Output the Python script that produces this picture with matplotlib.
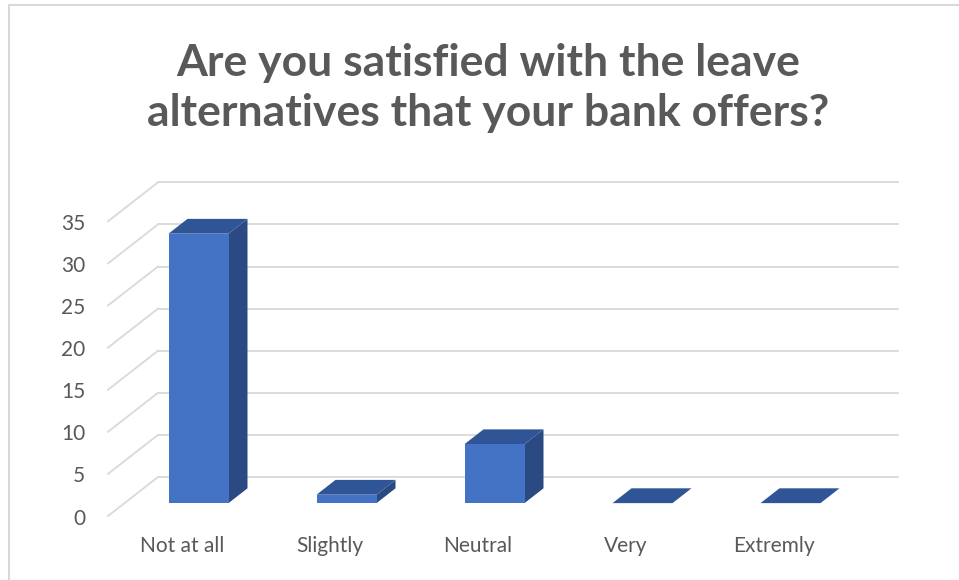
import matplotlib.pyplot as plt
from matplotlib.patches import Polygon

categories = ['Not at all', 'Slightly', 'Neutral', 'Very', 'Extremly']
counts = [32, 1, 7, 0, 0]
yticks = [0, 5, 10, 15, 20, 25, 30, 35]

title = 'Are you satisfied with the leave\nalternatives that your bank offers?'

# colours of the three visible faces of each column
front_col = '#4472C4'
top_col = '#2F5597'
side_col = '#2B4A83'
grid_col = '#D9D9D9'
text_col = '#595959'

plt.rcParams['font.family'] = ['Lato', 'DejaVu Sans']

W, H = 959, 580
fig = plt.figure(figsize=(W / 100, H / 100), dpi=100)
ax = fig.add_axes([0, 0, 1, 1])

# one x unit = one category slot, one y unit = one count on the front plane
px_x, px_y = 148.0, 8.42
x0_px, y0_px = 108, H - 516
ax.set_xlim(-x0_px / px_x, (W - x0_px) / px_x)
ax.set_ylim(-y0_px / px_y, (H - y0_px) / px_y)
ax.axis('off')

# depth of the floor in data units (pseudo 3d shear)
dx, dy = 50 / px_x, 39 / px_y
n = len(categories)

# side wall + back wall gridlines
for v in yticks:
    ax.plot([0, dx], [v, v + dy], color=grid_col, lw=1.3, zorder=1)
    ax.plot([dx, n + dx], [v + dy, v + dy], color=grid_col, lw=1.3, zorder=1)
    ax.text(-0.155, v - 0.3, str(v), ha='right', va='center', fontsize=15,
            color=text_col)

bar_w = 60 / px_x
f0, depth = 0.33, 0.38
for i, (cat, val) in enumerate(zip(categories, counts)):
    xc = i + 0.5
    xl = xc - bar_w / 2 + f0 * dx
    xr = xl + bar_w
    base = f0 * dy
    top = base + val
    ddx, ddy = depth * dx, depth * dy
    ax.add_patch(Polygon([(xr, base), (xr, top), (xr + ddx, top + ddy),
                          (xr + ddx, base + ddy)], closed=True,
                         fc=side_col, ec='none', zorder=3))
    ax.add_patch(Polygon([(xl, top), (xr, top), (xr + ddx, top + ddy),
                          (xl + ddx, top + ddy)], closed=True,
                         fc=top_col, ec='none', zorder=3))
    if val > 0:
        ax.add_patch(Polygon([(xl, base), (xr, base), (xr, top), (xl, top)],
                             closed=True, fc=front_col, ec='none', zorder=4))
    ax.text(xc, -3.6, cat, ha='center', va='center', fontsize=15,
            color=text_col)

fig.text(488 / W, 1 - 88 / H, title, ha='center', va='center', fontsize=32,
         fontweight='bold', color=text_col, linespacing=1.32)

# chart frame: only top and left edges fall inside the picture
fig.add_artist(plt.Line2D([9 / W, 9 / W], [0, 1 - 5 / H], color=grid_col,
                          lw=1.5, transform=fig.transFigure))
fig.add_artist(plt.Line2D([9 / W, 1], [1 - 5 / H, 1 - 5 / H], color=grid_col,
                          lw=1.5, transform=fig.transFigure))

fig.savefig('out.png', dpi=100, facecolor='white')
